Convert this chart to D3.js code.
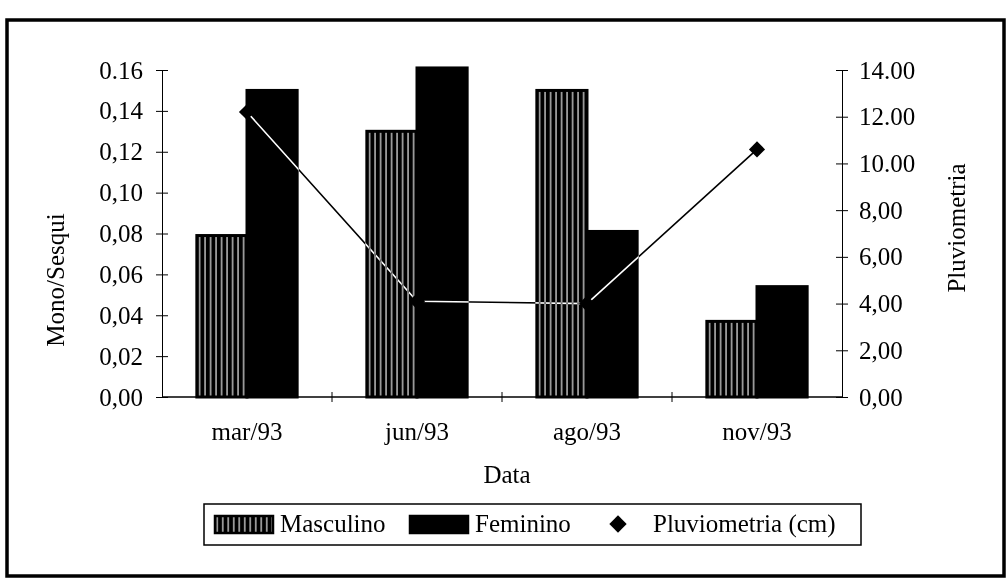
<!DOCTYPE html>
<html>
<head>
<meta charset="utf-8">
<script src="https://cdn.jsdelivr.net/npm/d3@7"></script>
<style>
  body { margin: 0; background: #fff; }
  text { font-family: "Liberation Serif", "Times New Roman", serif; fill: #000; }
</style>
</head>
<body>
<div id="chart"></div>
<script>
const categories = ["mar/93", "jun/93", "ago/93", "nov/93"];
const masculino = [0.079, 0.13, 0.15, 0.037];
const feminino = [0.15, 0.161, 0.081, 0.054];
const pluviometria = [12.2, 4.1, 4.0, 10.6];

const leftTicks = [0, 0.02, 0.04, 0.06, 0.08, 0.10, 0.12, 0.14, 0.16];
const leftTickLabels = ["0,00", "0,02", "0,04", "0,06", "0,08", "0,10", "0,12", "0,14", "0.16"];
const rightTicks = [0, 2, 4, 6, 8, 10, 12, 14];
const rightTickLabels = ["0,00", "2,00", "4,00", "6,00", "8,00", "10.00", "12.00", "14.00"];

const width = 1008, height = 581;
const plot = { left: 162, right: 842, top: 70, bottom: 397 };

const svg = d3.select("#chart")
  .append("svg")
  .attr("width", width)
  .attr("height", height);

// stripe pattern for Masculino bars
const defs = svg.append("defs");
const pat = defs.append("pattern")
  .attr("id", "stripes")
  .attr("patternUnits", "userSpaceOnUse")
  .attr("width", 5.5)
  .attr("height", 10);
pat.append("rect").attr("width", 5.5).attr("height", 10).attr("fill", "#000");
pat.append("line")
  .attr("x1", 2.75).attr("x2", 2.75).attr("y1", 0).attr("y2", 10)
  .attr("stroke", "#fff").attr("stroke-width", 1.1);

// outer frame
svg.append("rect")
  .attr("x", 7).attr("y", 20)
  .attr("width", 997).attr("height", 556)
  .attr("fill", "none")
  .attr("stroke", "#000")
  .attr("stroke-width", 3.5);

const x0 = d3.scaleBand()
  .domain(categories)
  .range([plot.left, plot.right])
  .paddingInner(0.41)
  .paddingOuter(0.205);

const x1 = d3.scaleBand()
  .domain(["Masculino", "Feminino"])
  .range([0, x0.bandwidth()]);

const yLeft = d3.scaleLinear().domain([0, 0.16]).range([plot.bottom, plot.top]);
const yRight = d3.scaleLinear().domain([0, 14]).range([plot.bottom, plot.top]);

// bars
const rows = categories.map((c, i) => ({ cat: c, Masculino: masculino[i], Feminino: feminino[i] }));

const groups = svg.append("g")
  .selectAll("g")
  .data(rows)
  .join("g")
  .attr("transform", (d) => `translate(${x0(d.cat)},0)`);

groups.selectAll("rect")
  .data((d) => ["Masculino", "Feminino"].map((k) => ({ key: k, value: d[k] })))
  .join("rect")
  .attr("x", (d) => x1(d.key))
  .attr("y", (d) => yLeft(d.value))
  .attr("width", x1.bandwidth())
  .attr("height", (d) => yLeft(0) - yLeft(d.value))
  .attr("fill", (d) => (d.key === "Masculino" ? "url(#stripes)" : "#000"))
  .attr("stroke", "#000")
  .attr("stroke-width", 3);

// x baseline + category boundary ticks
svg.append("line")
  .attr("x1", plot.left).attr("x2", plot.right)
  .attr("y1", plot.bottom).attr("y2", plot.bottom)
  .attr("stroke", "#000").attr("stroke-width", 1.5);

svg.append("g")
  .selectAll("line")
  .data(categories.slice(1))
  .join("line")
  .attr("x1", (d) => x0(d) - x0.step() * x0.paddingInner() / 2)
  .attr("x2", (d) => x0(d) - x0.step() * x0.paddingInner() / 2)
  .attr("y1", plot.bottom - 5)
  .attr("y2", plot.bottom + 5)
  .attr("stroke", "#000");

// x labels
svg.append("g")
  .selectAll("text")
  .data(categories)
  .join("text")
  .attr("x", (d) => x0(d) + x0.bandwidth() / 2)
  .attr("y", 440)
  .attr("text-anchor", "middle")
  .attr("font-size", 25)
  .text((d) => d);

// left axis
const leftAxis = svg.append("g")
  .attr("transform", `translate(${plot.left},0)`)
  .call(d3.axisLeft(yLeft)
    .tickValues(leftTicks)
    .tickFormat((d, i) => leftTickLabels[i])
    .tickSize(6)
    .tickSizeOuter(0)
    .tickPadding(13));
leftAxis.selectAll(".tick line").attr("x1", 6);
leftAxis.selectAll("text").attr("font-size", 25).attr("font-family", "Liberation Serif");
leftAxis.select(".domain").attr("stroke-width", 1);

// right axis
const rightAxis = svg.append("g")
  .attr("transform", `translate(${plot.right},0)`)
  .call(d3.axisRight(yRight)
    .tickValues(rightTicks)
    .tickFormat((d, i) => rightTickLabels[i])
    .tickSize(6)
    .tickSizeOuter(0)
    .tickPadding(11));
rightAxis.selectAll(".tick line").attr("x1", -6);
rightAxis.selectAll("text").attr("font-size", 25).attr("font-family", "Liberation Serif");
rightAxis.select(".domain").attr("stroke-width", 1);

// pluviometria line (inverts over the black bars)
const line = d3.line()
  .x((d, i) => x0(categories[i]) + x0.bandwidth() / 2)
  .y((d) => yRight(d));

svg.append("path")
  .datum(pluviometria)
  .attr("d", line)
  .attr("fill", "none")
  .attr("stroke", "#fff")
  .attr("stroke-width", 1.6)
  .style("mix-blend-mode", "difference");

const diamond = d3.symbol().type(d3.symbolSquare).size(130);
svg.append("g")
  .selectAll("path")
  .data(pluviometria)
  .join("path")
  .attr("d", diamond)
  .attr("transform", (d, i) => `translate(${x0(categories[i]) + x0.bandwidth() / 2},${yRight(d)}) rotate(45)`)
  .attr("fill", "#000");

// axis titles
svg.append("text")
  .attr("transform", "translate(64,280) rotate(-90)")
  .attr("text-anchor", "middle")
  .attr("font-size", 25)
  .text("Mono/Sesqui");

svg.append("text")
  .attr("transform", "translate(965,228) rotate(-90)")
  .attr("text-anchor", "middle")
  .attr("font-size", 25)
  .text("Pluviometria");

svg.append("text")
  .attr("x", 507)
  .attr("y", 483)
  .attr("text-anchor", "middle")
  .attr("font-size", 25)
  .text("Data");

// legend
const legend = svg.append("g");
legend.append("rect")
  .attr("x", 204).attr("y", 504)
  .attr("width", 657).attr("height", 41)
  .attr("fill", "none")
  .attr("stroke", "#000")
  .attr("stroke-width", 1.5);

const legendItems = [
  { label: "Masculino", fill: "url(#stripes)", x: 215, tx: 280 },
  { label: "Feminino", fill: "#000", x: 410, tx: 475 },
];
legendItems.forEach((d) => {
  legend.append("rect")
    .attr("x", d.x).attr("y", 516)
    .attr("width", 58).attr("height", 17)
    .attr("fill", d.fill)
    .attr("stroke", "#000")
    .attr("stroke-width", 2.5);
  legend.append("text")
    .attr("x", d.tx).attr("y", 532)
    .attr("font-size", 25)
    .text(d.label);
});
legend.append("path")
  .attr("d", d3.symbol().type(d3.symbolSquare).size(150))
  .attr("transform", "translate(618,524) rotate(45)")
  .attr("fill", "#000");
legend.append("text")
  .attr("x", 653).attr("y", 532)
  .attr("font-size", 25)
  .text("Pluviometria (cm)");
</script>
</body>
</html>
